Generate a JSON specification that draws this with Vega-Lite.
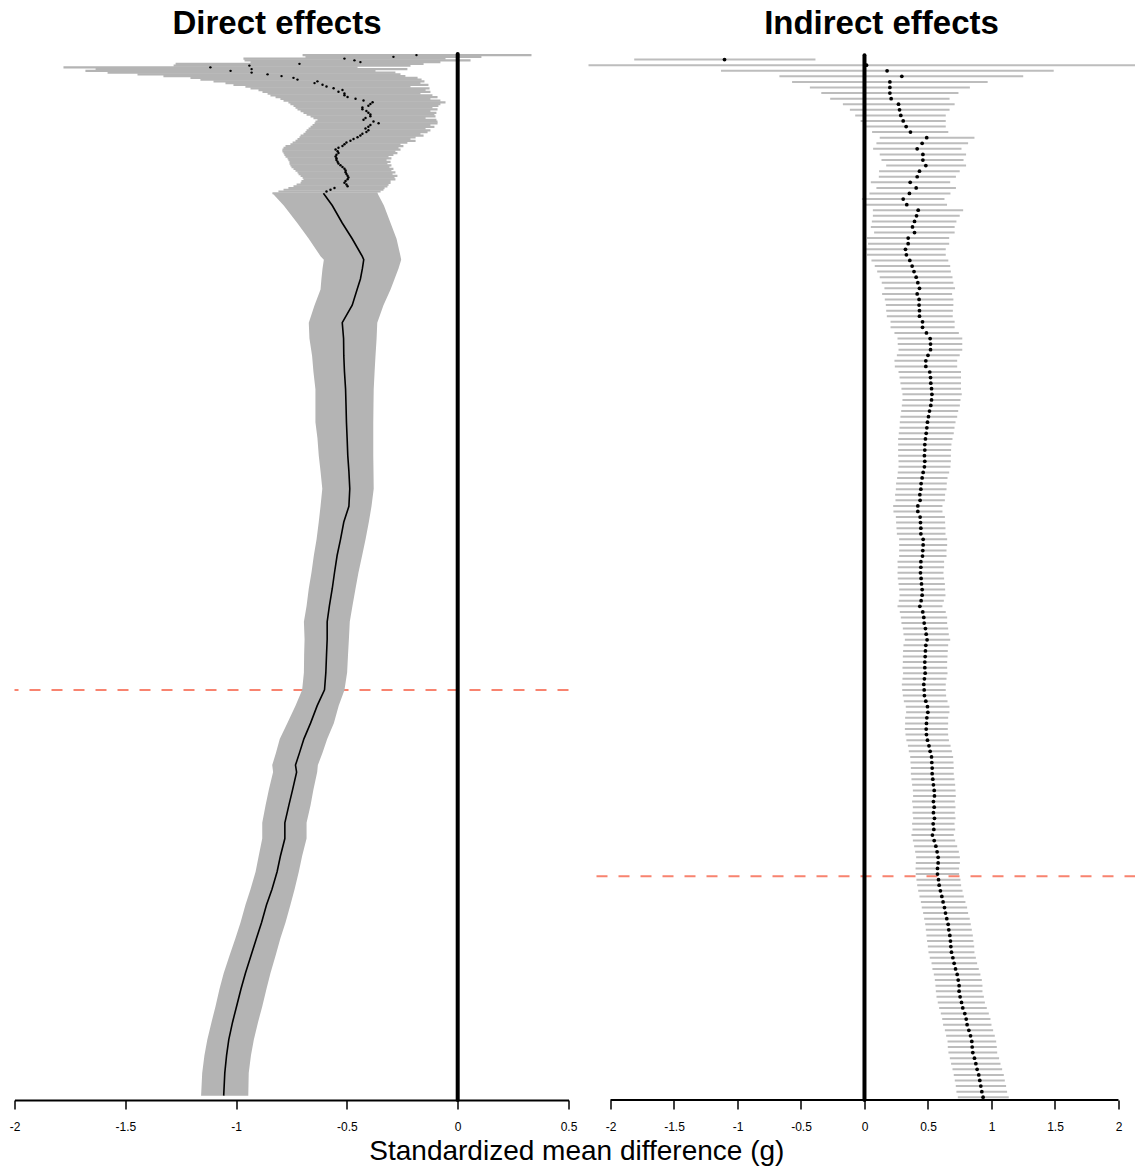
{
  "$schema": "https://vega.github.io/schema/vega-lite/v6.json",
  "background": "white",
  "padding": {"left": 8.5, "top": 8, "right": 0, "bottom": 3},
  "bounds": "flush",
  "spacing": 20,
  "config": {
    "view": {"stroke": null},
    "font": "Liberation Sans",
    "axis": {"labelFont": "Liberation Sans", "labelFontSize": 12, "labelColor": "black", "tickColor": "black", "domainColor": "black", "tickSize": 9, "tickWidth": 1.5, "domainWidth": 2, "labelPadding": 12, "grid": false, "labelFlush": false, "labelOverlap": false, "title": null},
    "title": {"font": "Liberation Sans", "color": "black"}
  },
  "title": {"text": "Standardized mean difference (g)", "orient": "bottom", "anchor": "middle", "fontSize": 28, "fontWeight": "normal", "offset": 6, "dx": 4},
  "datasets": {
    "direct": [
      {"row":1,"est":-0.186,"lo":-0.700,"hi":0.333},
      {"row":2,"est":-0.290,"lo":-0.687,"hi":0.107},
      {"row":3,"est":-0.511,"lo":-0.967,"hi":-0.055},
      {"row":4,"est":-0.466,"lo":-0.962,"hi":0.058},
      {"row":5,"est":-0.439,"lo":-0.935,"hi":-0.078},
      {"row":6,"est":-0.714,"lo":-1.273,"hi":-0.154},
      {"row":7,"est":-0.940,"lo":-1.282,"hi":-0.213},
      {"row":8,"est":-1.116,"lo":-1.779,"hi":-0.452},
      {"row":9,"est":-0.930,"lo":-1.634,"hi":-0.227},
      {"row":10,"est":-1.025,"lo":-1.680,"hi":-0.371},
      {"row":11,"est":-0.930,"lo":-1.580,"hi":-0.281},
      {"row":12,"est":-0.858,"lo":-1.445,"hi":-0.258},
      {"row":13,"est":-0.795,"lo":-1.328,"hi":-0.236},
      {"row":14,"est":-0.741,"lo":-1.206,"hi":-0.181},
      {"row":15,"est":-0.723,"lo":-1.161,"hi":-0.163},
      {"row":16,"est":-0.633,"lo":-1.102,"hi":-0.150},
      {"row":17,"est":-0.646,"lo":-1.048,"hi":-0.168},
      {"row":18,"est":-0.610,"lo":-1.012,"hi":-0.132},
      {"row":19,"est":-0.592,"lo":-0.958,"hi":-0.213},
      {"row":20,"est":-0.560,"lo":-0.935,"hi":-0.127},
      {"row":21,"est":-0.520,"lo":-0.899,"hi":-0.145},
      {"row":22,"est":-0.538,"lo":-0.881,"hi":-0.123},
      {"row":23,"est":-0.511,"lo":-0.858,"hi":-0.168},
      {"row":24,"est":-0.511,"lo":-0.845,"hi":-0.114},
      {"row":25,"est":-0.497,"lo":-0.822,"hi":-0.091},
      {"row":26,"est":-0.461,"lo":-0.800,"hi":-0.123},
      {"row":27,"est":-0.425,"lo":-0.786,"hi":-0.078},
      {"row":28,"est":-0.384,"lo":-0.764,"hi":-0.055},
      {"row":29,"est":-0.394,"lo":-0.755,"hi":-0.078},
      {"row":30,"est":-0.403,"lo":-0.741,"hi":-0.087},
      {"row":31,"est":-0.430,"lo":-0.732,"hi":-0.114},
      {"row":32,"est":-0.430,"lo":-0.723,"hi":-0.091},
      {"row":33,"est":-0.412,"lo":-0.709,"hi":-0.123},
      {"row":34,"est":-0.403,"lo":-0.696,"hi":-0.096},
      {"row":35,"est":-0.394,"lo":-0.682,"hi":-0.105},
      {"row":36,"est":-0.394,"lo":-0.664,"hi":-0.100},
      {"row":37,"est":-0.416,"lo":-0.651,"hi":-0.145},
      {"row":38,"est":-0.425,"lo":-0.633,"hi":-0.096},
      {"row":39,"est":-0.380,"lo":-0.642,"hi":-0.091},
      {"row":40,"est":-0.357,"lo":-0.646,"hi":-0.091},
      {"row":41,"est":-0.394,"lo":-0.655,"hi":-0.123},
      {"row":42,"est":-0.403,"lo":-0.664,"hi":-0.105},
      {"row":43,"est":-0.416,"lo":-0.673,"hi":-0.145},
      {"row":44,"est":-0.403,"lo":-0.682,"hi":-0.123},
      {"row":45,"est":-0.412,"lo":-0.687,"hi":-0.136},
      {"row":46,"est":-0.430,"lo":-0.696,"hi":-0.168},
      {"row":47,"est":-0.439,"lo":-0.709,"hi":-0.154},
      {"row":48,"est":-0.452,"lo":-0.714,"hi":-0.190},
      {"row":49,"est":-0.470,"lo":-0.723,"hi":-0.213},
      {"row":50,"est":-0.484,"lo":-0.732,"hi":-0.190},
      {"row":51,"est":-0.502,"lo":-0.745,"hi":-0.227},
      {"row":52,"est":-0.511,"lo":-0.755,"hi":-0.258},
      {"row":53,"est":-0.520,"lo":-0.777,"hi":-0.245},
      {"row":54,"est":-0.538,"lo":-0.786,"hi":-0.267},
      {"row":55,"est":-0.551,"lo":-0.791,"hi":-0.258},
      {"row":56,"est":-0.542,"lo":-0.791,"hi":-0.281},
      {"row":57,"est":-0.538,"lo":-0.786,"hi":-0.272},
      {"row":58,"est":-0.547,"lo":-0.782,"hi":-0.290},
      {"row":59,"est":-0.551,"lo":-0.777,"hi":-0.312},
      {"row":60,"est":-0.547,"lo":-0.768,"hi":-0.299},
      {"row":61,"est":-0.547,"lo":-0.764,"hi":-0.321},
      {"row":62,"est":-0.542,"lo":-0.759,"hi":-0.303},
      {"row":63,"est":-0.538,"lo":-0.759,"hi":-0.317},
      {"row":64,"est":-0.529,"lo":-0.755,"hi":-0.299},
      {"row":65,"est":-0.520,"lo":-0.750,"hi":-0.308},
      {"row":66,"est":-0.511,"lo":-0.741,"hi":-0.290},
      {"row":67,"est":-0.506,"lo":-0.732,"hi":-0.299},
      {"row":68,"est":-0.506,"lo":-0.723,"hi":-0.281},
      {"row":69,"est":-0.502,"lo":-0.718,"hi":-0.294},
      {"row":70,"est":-0.497,"lo":-0.709,"hi":-0.272},
      {"row":71,"est":-0.493,"lo":-0.700,"hi":-0.285},
      {"row":72,"est":-0.497,"lo":-0.696,"hi":-0.281},
      {"row":73,"est":-0.506,"lo":-0.705,"hi":-0.303},
      {"row":74,"est":-0.511,"lo":-0.709,"hi":-0.303},
      {"row":75,"est":-0.502,"lo":-0.727,"hi":-0.312},
      {"row":76,"est":-0.497,"lo":-0.741,"hi":-0.317},
      {"row":77,"est":-0.556,"lo":-0.764,"hi":-0.330},
      {"row":78,"est":-0.574,"lo":-0.786,"hi":-0.335},
      {"row":79,"est":-0.592,"lo":-0.809,"hi":-0.348},
      {"row":80,"est":-0.606,"lo":-0.836,"hi":-0.362},
      {"row":87,"est":-0.566,"lo":-0.785,"hi":-0.333},
      {"row":97,"est":-0.521,"lo":-0.724,"hi":-0.303},
      {"row":106,"est":-0.476,"lo":-0.672,"hi":-0.276},
      {"row":116,"est":-0.431,"lo":-0.619,"hi":-0.258},
      {"row":118,"est":-0.424,"lo":-0.604,"hi":-0.255},
      {"row":123,"est":-0.430,"lo":-0.610,"hi":-0.267},
      {"row":129,"est":-0.439,"lo":-0.615,"hi":-0.285},
      {"row":135,"est":-0.454,"lo":-0.619,"hi":-0.303},
      {"row":144,"est":-0.476,"lo":-0.646,"hi":-0.335},
      {"row":154,"est":-0.521,"lo":-0.672,"hi":-0.363},
      {"row":163,"est":-0.515,"lo":-0.669,"hi":-0.366},
      {"row":173,"est":-0.514,"lo":-0.657,"hi":-0.371},
      {"row":182,"est":-0.511,"lo":-0.651,"hi":-0.375},
      {"row":192,"est":-0.506,"lo":-0.642,"hi":-0.379},
      {"row":201,"est":-0.504,"lo":-0.642,"hi":-0.380},
      {"row":211,"est":-0.502,"lo":-0.642,"hi":-0.381},
      {"row":220,"est":-0.499,"lo":-0.633,"hi":-0.381},
      {"row":230,"est":-0.496,"lo":-0.627,"hi":-0.381},
      {"row":239,"est":-0.491,"lo":-0.619,"hi":-0.380},
      {"row":249,"est":-0.487,"lo":-0.611,"hi":-0.379},
      {"row":259,"est":-0.491,"lo":-0.619,"hi":-0.389},
      {"row":268,"est":-0.514,"lo":-0.627,"hi":-0.401},
      {"row":278,"est":-0.529,"lo":-0.637,"hi":-0.416},
      {"row":287,"est":-0.544,"lo":-0.649,"hi":-0.431},
      {"row":297,"est":-0.556,"lo":-0.660,"hi":-0.448},
      {"row":306,"est":-0.566,"lo":-0.672,"hi":-0.461},
      {"row":316,"est":-0.579,"lo":-0.682,"hi":-0.475},
      {"row":325,"est":-0.589,"lo":-0.694,"hi":-0.487},
      {"row":335,"est":-0.589,"lo":-0.691,"hi":-0.491},
      {"row":344,"est":-0.592,"lo":-0.693,"hi":-0.495},
      {"row":354,"est":-0.595,"lo":-0.694,"hi":-0.499},
      {"row":364,"est":-0.601,"lo":-0.702,"hi":-0.511},
      {"row":373,"est":-0.634,"lo":-0.732,"hi":-0.537},
      {"row":383,"est":-0.664,"lo":-0.769,"hi":-0.559},
      {"row":392,"est":-0.694,"lo":-0.803,"hi":-0.589},
      {"row":400,"est":-0.714,"lo":-0.820,"hi":-0.610},
      {"row":407,"est":-0.732,"lo":-0.837,"hi":-0.631},
      {"row":411,"est":-0.727,"lo":-0.833,"hi":-0.634},
      {"row":421,"est":-0.745,"lo":-0.852,"hi":-0.651},
      {"row":430,"est":-0.762,"lo":-0.867,"hi":-0.664},
      {"row":440,"est":-0.780,"lo":-0.882,"hi":-0.682},
      {"row":449,"est":-0.780,"lo":-0.882,"hi":-0.682},
      {"row":459,"est":-0.800,"lo":-0.898,"hi":-0.702},
      {"row":468,"est":-0.815,"lo":-0.912,"hi":-0.717},
      {"row":478,"est":-0.838,"lo":-0.935,"hi":-0.736},
      {"row":487,"est":-0.863,"lo":-0.958,"hi":-0.755},
      {"row":497,"est":-0.885,"lo":-0.980,"hi":-0.777},
      {"row":506,"est":-0.908,"lo":-1.003,"hi":-0.800},
      {"row":516,"est":-0.933,"lo":-1.030,"hi":-0.822},
      {"row":526,"est":-0.958,"lo":-1.056,"hi":-0.845},
      {"row":535,"est":-0.978,"lo":-1.075,"hi":-0.863},
      {"row":545,"est":-0.998,"lo":-1.093,"hi":-0.882},
      {"row":554,"est":-1.016,"lo":-1.111,"hi":-0.901},
      {"row":564,"est":-1.033,"lo":-1.130,"hi":-0.920},
      {"row":573,"est":-1.043,"lo":-1.143,"hi":-0.933},
      {"row":583,"est":-1.051,"lo":-1.153,"hi":-0.943},
      {"row":596,"est":-1.056,"lo":-1.158,"hi":-0.945}
    ],
    "indirect": [
      {"row":1,"est":-1.102,"lo":-1.813,"hi":-0.386},
      {"row":2,"est":0.016,"lo":-2.3,"hi":2.3},
      {"row":3,"est":0.178,"lo":-1.13,"hi":1.49},
      {"row":4,"est":0.294,"lo":-0.67,"hi":1.25},
      {"row":5,"est":0.20,"lo":-0.57,"hi":0.97},
      {"row":6,"est":0.20,"lo":-0.43,"hi":0.83},
      {"row":7,"est":0.20,"lo":-0.34,"hi":0.74},
      {"row":8,"est":0.21,"lo":-0.27,"hi":0.67},
      {"row":9,"est":0.268,"lo":-0.17,"hi":0.71},
      {"row":10,"est":0.276,"lo":-0.115,"hi":0.67},
      {"row":11,"est":0.286,"lo":-0.073,"hi":0.64},
      {"row":12,"est":0.305,"lo":-0.03,"hi":0.64},
      {"row":13,"est":0.328,"lo":0.013,"hi":0.64},
      {"row":14,"est":0.362,"lo":0.06,"hi":0.66},
      {"row":15,"est":0.49,"lo":0.12,"hi":0.866},
      {"row":16,"est":0.454,"lo":0.094,"hi":0.816},
      {"row":17,"est":0.415,"lo":0.068,"hi":0.764},
      {"row":18,"est":0.46,"lo":0.12,"hi":0.80},
      {"row":19,"est":0.46,"lo":0.134,"hi":0.78},
      {"row":20,"est":0.483,"lo":0.171,"hi":0.80},
      {"row":21,"est":0.433,"lo":0.115,"hi":0.75},
      {"row":22,"est":0.415,"lo":0.113,"hi":0.72},
      {"row":23,"est":0.36,"lo":0.05,"hi":0.675},
      {"row":24,"est":0.407,"lo":0.094,"hi":0.72},
      {"row":25,"est":0.354,"lo":0.039,"hi":0.677},
      {"row":26,"est":0.305,"lo":-0.02,"hi":0.63},
      {"row":27,"est":0.333,"lo":0.01,"hi":0.65},
      {"row":28,"est":0.423,"lo":0.066,"hi":0.777},
      {"row":29,"est":0.41,"lo":0.066,"hi":0.75},
      {"row":30,"est":0.394,"lo":0.058,"hi":0.724},
      {"row":31,"est":0.378,"lo":0.05,"hi":0.71},
      {"row":32,"est":0.394,"lo":0.076,"hi":0.71},
      {"row":33,"est":0.344,"lo":0.02,"hi":0.667},
      {"row":34,"est":0.344,"lo":0.028,"hi":0.667},
      {"row":35,"est":0.323,"lo":0.013,"hi":0.64},
      {"row":36,"est":0.33,"lo":0.02,"hi":0.64},
      {"row":37,"est":0.357,"lo":0.055,"hi":0.66},
      {"row":38,"est":0.375,"lo":0.081,"hi":0.675},
      {"row":39,"est":0.39,"lo":0.10,"hi":0.68},
      {"row":40,"est":0.407,"lo":0.12,"hi":0.693},
      {"row":41,"est":0.42,"lo":0.136,"hi":0.70},
      {"row":42,"est":0.433,"lo":0.157,"hi":0.713},
      {"row":43,"est":0.415,"lo":0.139,"hi":0.69},
      {"row":44,"est":0.43,"lo":0.16,"hi":0.70},
      {"row":45,"est":0.43,"lo":0.168,"hi":0.70},
      {"row":46,"est":0.433,"lo":0.171,"hi":0.696},
      {"row":47,"est":0.433,"lo":0.176,"hi":0.695},
      {"row":48,"est":0.457,"lo":0.205,"hi":0.71},
      {"row":49,"est":0.457,"lo":0.205,"hi":0.71},
      {"row":50,"est":0.488,"lo":0.236,"hi":0.743},
      {"row":51,"est":0.517,"lo":0.26,"hi":0.77},
      {"row":52,"est":0.52,"lo":0.262,"hi":0.77},
      {"row":53,"est":0.52,"lo":0.268,"hi":0.77},
      {"row":54,"est":0.50,"lo":0.255,"hi":0.75},
      {"row":55,"est":0.483,"lo":0.236,"hi":0.73},
      {"row":56,"est":0.483,"lo":0.239,"hi":0.73},
      {"row":57,"est":0.514,"lo":0.268,"hi":0.76},
      {"row":58,"est":0.52,"lo":0.276,"hi":0.76},
      {"row":59,"est":0.522,"lo":0.283,"hi":0.76},
      {"row":60,"est":0.528,"lo":0.291,"hi":0.76},
      {"row":61,"est":0.531,"lo":0.299,"hi":0.766},
      {"row":62,"est":0.528,"lo":0.299,"hi":0.756},
      {"row":63,"est":0.522,"lo":0.294,"hi":0.751},
      {"row":64,"est":0.512,"lo":0.289,"hi":0.738},
      {"row":65,"est":0.504,"lo":0.283,"hi":0.730},
      {"row":66,"est":0.496,"lo":0.278,"hi":0.717},
      {"row":67,"est":0.491,"lo":0.276,"hi":0.709},
      {"row":68,"est":0.486,"lo":0.270,"hi":0.703},
      {"row":69,"est":0.480,"lo":0.265,"hi":0.693},
      {"row":70,"est":0.475,"lo":0.265,"hi":0.685},
      {"row":71,"est":0.475,"lo":0.265,"hi":0.682},
      {"row":72,"est":0.472,"lo":0.265,"hi":0.680},
      {"row":73,"est":0.475,"lo":0.268,"hi":0.680},
      {"row":74,"est":0.472,"lo":0.268,"hi":0.677},
      {"row":75,"est":0.462,"lo":0.262,"hi":0.667},
      {"row":76,"est":0.454,"lo":0.257,"hi":0.654},
      {"row":77,"est":0.446,"lo":0.249,"hi":0.648},
      {"row":78,"est":0.444,"lo":0.247,"hi":0.646},
      {"row":79,"est":0.436,"lo":0.241,"hi":0.635},
      {"row":80,"est":0.438,"lo":0.244,"hi":0.633},
      {"row":81,"est":0.420,"lo":0.226,"hi":0.614},
      {"row":82,"est":0.420,"lo":0.228,"hi":0.614},
      {"row":83,"est":0.438,"lo":0.247,"hi":0.633},
      {"row":84,"est":0.441,"lo":0.249,"hi":0.635},
      {"row":85,"est":0.444,"lo":0.252,"hi":0.638},
      {"row":86,"est":0.444,"lo":0.255,"hi":0.638},
      {"row":87,"est":0.462,"lo":0.273,"hi":0.651},
      {"row":88,"est":0.462,"lo":0.273,"hi":0.651},
      {"row":89,"est":0.459,"lo":0.273,"hi":0.646},
      {"row":90,"est":0.457,"lo":0.273,"hi":0.646},
      {"row":91,"est":0.444,"lo":0.260,"hi":0.627},
      {"row":92,"est":0.444,"lo":0.262,"hi":0.627},
      {"row":93,"est":0.441,"lo":0.260,"hi":0.622},
      {"row":94,"est":0.446,"lo":0.262,"hi":0.627},
      {"row":95,"est":0.449,"lo":0.268,"hi":0.633},
      {"row":96,"est":0.454,"lo":0.273,"hi":0.635},
      {"row":97,"est":0.454,"lo":0.276,"hi":0.638},
      {"row":98,"est":0.446,"lo":0.270,"hi":0.625},
      {"row":99,"est":0.436,"lo":0.260,"hi":0.614},
      {"row":100,"est":0.459,"lo":0.278,"hi":0.640},
      {"row":101,"est":0.467,"lo":0.286,"hi":0.651},
      {"row":102,"est":0.470,"lo":0.291,"hi":0.651},
      {"row":103,"est":0.480,"lo":0.302,"hi":0.659},
      {"row":104,"est":0.486,"lo":0.307,"hi":0.664},
      {"row":105,"est":0.493,"lo":0.318,"hi":0.675},
      {"row":106,"est":0.483,"lo":0.307,"hi":0.659},
      {"row":107,"est":0.480,"lo":0.304,"hi":0.656},
      {"row":108,"est":0.478,"lo":0.302,"hi":0.654},
      {"row":109,"est":0.475,"lo":0.302,"hi":0.651},
      {"row":110,"est":0.475,"lo":0.299,"hi":0.651},
      {"row":111,"est":0.478,"lo":0.304,"hi":0.654},
      {"row":112,"est":0.472,"lo":0.299,"hi":0.646},
      {"row":113,"est":0.467,"lo":0.294,"hi":0.640},
      {"row":114,"est":0.470,"lo":0.297,"hi":0.640},
      {"row":115,"est":0.472,"lo":0.302,"hi":0.643},
      {"row":116,"est":0.483,"lo":0.310,"hi":0.654},
      {"row":117,"est":0.496,"lo":0.325,"hi":0.669},
      {"row":118,"est":0.499,"lo":0.328,"hi":0.669},
      {"row":119,"est":0.491,"lo":0.320,"hi":0.659},
      {"row":120,"est":0.488,"lo":0.320,"hi":0.659},
      {"row":121,"est":0.486,"lo":0.318,"hi":0.656},
      {"row":122,"est":0.488,"lo":0.323,"hi":0.659},
      {"row":123,"est":0.496,"lo":0.330,"hi":0.665},
      {"row":124,"est":0.508,"lo":0.342,"hi":0.678},
      {"row":125,"est":0.517,"lo":0.349,"hi":0.688},
      {"row":126,"est":0.528,"lo":0.360,"hi":0.698},
      {"row":127,"est":0.530,"lo":0.362,"hi":0.701},
      {"row":128,"est":0.533,"lo":0.365,"hi":0.703},
      {"row":129,"est":0.533,"lo":0.365,"hi":0.703},
      {"row":130,"est":0.538,"lo":0.370,"hi":0.709},
      {"row":131,"est":0.543,"lo":0.375,"hi":0.714},
      {"row":132,"est":0.549,"lo":0.381,"hi":0.717},
      {"row":133,"est":0.551,"lo":0.383,"hi":0.719},
      {"row":134,"est":0.543,"lo":0.375,"hi":0.711},
      {"row":135,"est":0.549,"lo":0.381,"hi":0.717},
      {"row":136,"est":0.543,"lo":0.378,"hi":0.711},
      {"row":137,"est":0.551,"lo":0.383,"hi":0.717},
      {"row":138,"est":0.541,"lo":0.375,"hi":0.709},
      {"row":139,"est":0.546,"lo":0.378,"hi":0.714},
      {"row":140,"est":0.535,"lo":0.370,"hi":0.703},
      {"row":141,"est":0.549,"lo":0.381,"hi":0.714},
      {"row":142,"est":0.562,"lo":0.391,"hi":0.730},
      {"row":143,"est":0.572,"lo":0.399,"hi":0.743},
      {"row":144,"est":0.580,"lo":0.407,"hi":0.751},
      {"row":145,"est":0.580,"lo":0.404,"hi":0.751},
      {"row":146,"est":0.575,"lo":0.402,"hi":0.745},
      {"row":147,"est":0.575,"lo":0.404,"hi":0.745},
      {"row":148,"est":0.583,"lo":0.409,"hi":0.756},
      {"row":149,"est":0.588,"lo":0.415,"hi":0.761},
      {"row":150,"est":0.598,"lo":0.423,"hi":0.772},
      {"row":151,"est":0.609,"lo":0.433,"hi":0.782},
      {"row":152,"est":0.619,"lo":0.444,"hi":0.795},
      {"row":153,"est":0.630,"lo":0.451,"hi":0.808},
      {"row":154,"est":0.638,"lo":0.462,"hi":0.816},
      {"row":155,"est":0.648,"lo":0.470,"hi":0.829},
      {"row":156,"est":0.659,"lo":0.478,"hi":0.837},
      {"row":157,"est":0.664,"lo":0.483,"hi":0.845},
      {"row":158,"est":0.672,"lo":0.488,"hi":0.853},
      {"row":159,"est":0.677,"lo":0.493,"hi":0.858},
      {"row":160,"est":0.680,"lo":0.499,"hi":0.864},
      {"row":161,"est":0.685,"lo":0.504,"hi":0.866},
      {"row":162,"est":0.696,"lo":0.514,"hi":0.877},
      {"row":163,"est":0.706,"lo":0.528,"hi":0.887},
      {"row":164,"est":0.717,"lo":0.535,"hi":0.900},
      {"row":165,"est":0.730,"lo":0.546,"hi":0.913},
      {"row":166,"est":0.738,"lo":0.554,"hi":0.924},
      {"row":167,"est":0.745,"lo":0.559,"hi":0.929},
      {"row":168,"est":0.745,"lo":0.562,"hi":0.929},
      {"row":169,"est":0.753,"lo":0.567,"hi":0.940},
      {"row":170,"est":0.764,"lo":0.577,"hi":0.948},
      {"row":171,"est":0.774,"lo":0.588,"hi":0.963},
      {"row":172,"est":0.790,"lo":0.601,"hi":0.979},
      {"row":173,"est":0.801,"lo":0.612,"hi":0.992},
      {"row":174,"est":0.808,"lo":0.619,"hi":1.000},
      {"row":175,"est":0.822,"lo":0.633,"hi":1.013},
      {"row":176,"est":0.835,"lo":0.643,"hi":1.026},
      {"row":177,"est":0.845,"lo":0.654,"hi":1.037},
      {"row":178,"est":0.848,"lo":0.656,"hi":1.042},
      {"row":179,"est":0.853,"lo":0.661,"hi":1.045},
      {"row":180,"est":0.866,"lo":0.672,"hi":1.060},
      {"row":181,"est":0.877,"lo":0.682,"hi":1.071},
      {"row":182,"est":0.887,"lo":0.693,"hi":1.084},
      {"row":183,"est":0.900,"lo":0.703,"hi":1.097},
      {"row":184,"est":0.908,"lo":0.711,"hi":1.105},
      {"row":185,"est":0.916,"lo":0.719,"hi":1.115},
      {"row":186,"est":0.924,"lo":0.724,"hi":1.123},
      {"row":187,"est":0.934,"lo":0.735,"hi":1.136}
    ]
  },
  "hconcat": [
    {
      "width": 554,
      "height": 1051,
      "title": {"text": "Direct effects", "fontSize": 33, "fontWeight": "bold", "anchor": "middle", "dx": -14.5, "offset": -18, "baseline": "alphabetic"},
      "layer": [
        {
          "data": {"values": [{"row": 364}]},
          "mark": {"type": "rule", "color": "#f8836f", "strokeWidth": 2, "strokeDash": [11, 11]},
          "encoding": {
            "y": {"field": "row", "type": "quantitative", "scale": {"domain": [-2.5, 598.5], "reverse": true, "zero": false, "nice": false}, "axis": null}
          }
        },
        {
          "data": {"name": "direct"},
          "transform": [{"filter": "datum.row >= 80"}],
          "mark": {"type": "area", "orient": "horizontal", "color": "#b4b4b4", "opacity": 1, "clip": true},
          "encoding": {
            "y": {"field": "row", "type": "quantitative"},
            "x": {"field": "lo", "type": "quantitative", "scale": {"domain": [-2, 0.5], "zero": false, "nice": false},
                  "axis": {"values": [-2, -1.5, -1, -0.5, 0, 0.5], "labelExpr": "'' + datum.value", "domain": true}},
            "x2": {"field": "hi"}
          }
        },
        {
          "data": {"name": "direct"},
          "transform": [{"filter": "datum.row <= 80"}],
          "mark": {"type": "rule", "color": "#b4b4b4", "strokeWidth": 2.2, "clip": true},
          "encoding": {
            "y": {"field": "row", "type": "quantitative"},
            "x": {"field": "lo", "type": "quantitative"},
            "x2": {"field": "hi"}
          }
        },
        {
          "data": {"name": "direct"},
          "transform": [{"filter": "datum.row >= 80"}],
          "mark": {"type": "line", "color": "black", "strokeWidth": 1.6},
          "encoding": {
            "y": {"field": "row", "type": "quantitative"},
            "x": {"field": "est", "type": "quantitative"},
            "order": {"field": "row", "type": "quantitative"}
          }
        },
        {
          "data": {"name": "direct"},
          "transform": [{"filter": "datum.row < 80"}],
          "mark": {"type": "circle", "color": "black", "size": 6, "opacity": 1},
          "encoding": {
            "y": {"field": "row", "type": "quantitative"},
            "x": {"field": "est", "type": "quantitative"}
          }
        },
        {
          "data": {"values": [{"x": 0, "y1": 0.3, "y2": 598.5}]},
          "mark": {"type": "rule", "color": "black", "strokeWidth": 4, "strokeCap": "round"},
          "encoding": {
            "x": {"field": "x", "type": "quantitative"},
            "y": {"field": "y1", "type": "quantitative"},
            "y2": {"field": "y2"}
          }
        }
      ]
    },
    {
      "width": 547,
      "height": 1051,
      "title": {"text": "Indirect effects", "fontSize": 33, "fontWeight": "bold", "anchor": "middle", "dx": 19.5, "offset": -18, "baseline": "alphabetic"},
      "layer": [
        {
          "data": {"name": "indirect"},
          "mark": {"type": "rule", "color": "#bdbdbd", "strokeWidth": 2, "clip": true},
          "encoding": {
            "y": {"field": "row", "type": "quantitative", "scale": {"domain": [-0.9, 187.5], "reverse": true, "zero": false, "nice": false}, "axis": null},
            "x": {"field": "lo", "type": "quantitative", "scale": {"domain": [-2.173, 2.134], "zero": false, "nice": false},
                  "axis": {"values": [-2, -1.5, -1, -0.5, 0, 0.5, 1, 1.5, 2], "labelExpr": "'' + datum.value", "domain": false}},
            "x2": {"field": "hi"}
          }
        },
        {
          "data": {"values": [{"row": 147.4}]},
          "mark": {"type": "rule", "color": "#f8836f", "strokeWidth": 2, "strokeDash": [11, 11]},
          "encoding": {
            "y": {"field": "row", "type": "quantitative"}
          }
        },
        {
          "data": {"values": [{"x": 0, "y1": 0.2, "y2": 187.5}]},
          "mark": {"type": "rule", "color": "black", "strokeWidth": 4, "strokeCap": "round"},
          "encoding": {
            "x": {"field": "x", "type": "quantitative"},
            "y": {"field": "y1", "type": "quantitative"},
            "y2": {"field": "y2"}
          }
        },
        {
          "data": {"name": "indirect"},
          "mark": {"type": "circle", "color": "black", "size": 14, "opacity": 1},
          "encoding": {
            "y": {"field": "row", "type": "quantitative"},
            "x": {"field": "est", "type": "quantitative"}
          }
        },
        {
          "data": {"values": [{"x1": -2, "x2": 2, "y": 187.5}]},
          "mark": {"type": "rule", "color": "black", "strokeWidth": 2},
          "encoding": {
            "x": {"field": "x1", "type": "quantitative"},
            "x2": {"field": "x2"},
            "y": {"field": "y", "type": "quantitative"}
          }
        }
      ]
    }
  ]
}
